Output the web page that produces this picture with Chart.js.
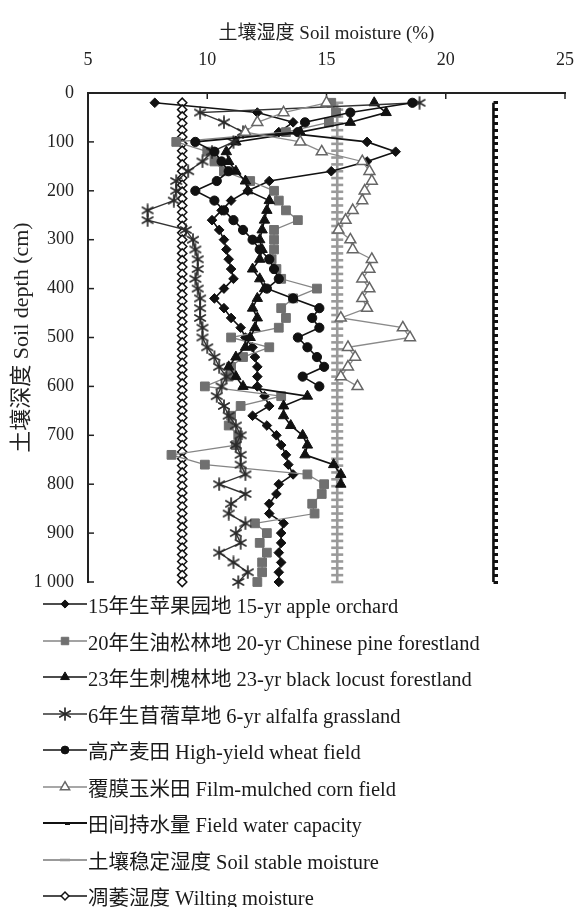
<!DOCTYPE html>
<html>
<head>
<meta charset="utf-8">
<script src="https://cdn.jsdelivr.net/npm/chart.js@4.4.1/dist/chart.umd.min.js"></script>
<style>
  html, body { margin: 0; padding: 0; background: #fff; }
  #wrap { position: relative; width: 585px; height: 907px; }
  #legend { position: absolute; left: 0; top: 0; width: 585px; height: 907px; pointer-events: none; }
  .row { position: absolute; left: 43px; height: 30px; display: flex; align-items: center;
         font: 20.5px "Liberation Serif", "Noto Sans CJK SC", serif; color: #1a1a1a; white-space: nowrap; }
  .row canvas { width: 44px; height: 16px; margin-right: 1px; }
</style>
</head>
<body>
<div id="wrap"><canvas id="c"></canvas><div id="legend"></div></div>
<script>
// Sampling depths (cm) of the measured soil-moisture profiles
const DEPTHS = [20, 40, 60, 80, 100, 120, 140, 160, 180, 200,
  220, 240, 260, 280, 300, 320, 340, 360, 380, 400,
  420, 440, 460, 480, 500, 520, 540, 560, 580, 600,
  620, 640, 660, 680, 700, 720, 740, 760, 780, 800,
  820, 840, 860, 880, 900, 920, 940, 960, 980, 1000];

// Depths at which the reference moisture levels are marked
const REF_DEPTHS = [20, 34, 48, 62, 76, 90, 104, 118, 132, 146, 160, 174, 188, 202, 216,
  230, 244, 258, 272, 286, 300, 314, 328, 342, 356, 370, 384, 398, 412, 426, 440, 454,
  468, 482, 496, 510, 524, 538, 552, 566, 580, 594, 608, 622, 636, 650, 664, 678, 692,
  706, 720, 734, 748, 762, 776, 790, 804, 818, 832, 846, 860, 874, 888, 902, 916, 930,
  944, 958, 972, 986, 1000];

// Soil moisture (%) per land use, one value per depth in DEPTHS
const APPLE = [7.8, 12.1, 13.6, 13.0, 16.7, 17.9, 16.7, 15.2, 12.6, 11.7,
  11.0, 10.6, 10.2, 10.5, 10.7, 10.8, 10.9, 11.0, 11.1, 10.7,
  10.3, 10.7, 11.0, 11.4, 11.6, 11.9, 12.0, 12.1, 12.1, 12.1,
  12.4, 12.6, 11.9, 12.5, 12.9, 13.1, 13.3, 13.4, 13.6, 13.0,
  12.9, 12.6, 12.6, 13.2, 13.1, 13.1, 13.0, 13.1, 13.0, 13.0];
const PINE = [15.2, 15.4, 15.1, 13.3, 8.7, 10.0, 10.3, 10.7, 11.8, 12.8,
  13.0, 13.3, 13.8, 12.8, 12.8, 12.8, 12.7, 12.9, 13.1, 14.6,
  13.6, 13.1, 13.3, 13.0, 11.0, 12.6, 11.5, 11.0, 10.9, 9.9,
  13.1, 11.4, 11.0, 10.9, 11.3, 11.2, 8.5, 9.9, 14.2, 14.9,
  14.8, 14.4, 14.5, 12.0, 12.5, 12.2, 12.5, 12.3, 12.3, 12.1];
const LOCUST = [17.0, 17.5, 16.0, 13.9, 11.2, 10.8, 10.9, 11.2, 11.6, 11.7,
  12.6, 12.5, 12.4, 12.3, 12.2, 12.3, 12.2, 11.9, 12.2, 12.4,
  12.1, 11.9, 12.1, 12.0, 11.8, 11.6, 11.2, 10.9, 11.2, 11.5,
  14.2, 13.2, 13.2, 13.5, 14.0, 14.2, 14.1, 15.3, 15.6, 15.6];
const ALFALFA = [18.9, 9.7, 10.7, 11.5, 11.1, 10.2, 9.8, 9.2, 8.7, 8.7,
  8.6, 7.5, 7.5, 9.1, 9.4, 9.5, 9.6, 9.6, 9.5, 9.6,
  9.7, 9.7, 9.7, 9.8, 9.8, 10.0, 10.3, 10.5, 10.8, 10.6,
  10.4, 10.7, 10.9, 11.2, 11.4, 11.2, 11.4, 11.4, 11.6, 10.5,
  11.6, 11.0, 10.9, 11.6, 11.2, 11.4, 10.5, 11.1, 11.7, 11.3];
const WHEAT = [18.6, 16.0, 14.1, 13.8, 9.5, 10.3, 10.6, 10.9, 10.4, 9.5,
  10.3, 10.7, 11.1, 11.5, 11.9, 12.2, 12.6, 12.8, 13.0, 12.5,
  13.6, 14.7, 14.4, 14.7, 13.8, 14.2, 14.6, 14.9, 14.0, 14.7];
const CORN = [15.0, 13.2, 12.1, 11.6, 13.9, 14.8, 16.5, 16.8, 16.9, 16.6,
  16.5, 16.1, 15.8, 15.5, 16.0, 16.1, 16.9, 16.8, 16.5, 16.8,
  16.5, 16.7, 15.6, 18.2, 18.5, 15.9, 16.2, 15.9, 15.6, 16.3];

// Reference moisture levels (%)
const FIELD_CAPACITY = 22.0;
const STABLE_MOISTURE = 15.45;
const WILTING_MOISTURE = 8.95;

const SERIES_NAMES = [
  '15年生苹果园地 15-yr apple orchard',
  '20年生油松林地 20-yr Chinese pine forestland',
  '23年生刺槐林地 23-yr black locust forestland',
  '6年生苜蓿草地 6-yr alfalfa grassland',
  '高产麦田 High-yield wheat field',
  '覆膜玉米田 Film-mulched corn field',
  '田间持水量 Field water capacity',
  '土壤稳定湿度 Soil stable moisture',
  '凋萎湿度 Wilting moisture'
];

const X_TITLE = '土壤湿度 Soil moisture (%)';
const Y_TITLE = '土壤深度 Soil depth (cm)';
const X_TICK_VALUES = [5, 10, 15, 20, 25];
const X_TICK_LABELS = ['5', '10', '15', '20', '25'];
const Y_TICK_VALUES = [0, 100, 200, 300, 400, 500, 600, 700, 800, 900, 1000];
const Y_TICK_LABELS = ['0', '100', '200', '300', '400', '500', '600', '700', '800', '900', '1 000'];

const FONT = '"Liberation Serif", "Noto Sans CJK SC", serif';

function profile(values, depths) {
  return values.map((v, i) => ({ x: v, y: depths[i] }));
}
function level(value) {
  return REF_DEPTHS.map(d => ({ x: value, y: d }));
}
function tickLabel(values, labels, v) {
  const i = values.indexOf(v);
  return i < 0 ? '' : labels[i];
}

// short bar marker that sits on the right side of its line
function sideDash(color) {
  const c = document.createElement('canvas');
  c.width = 10; c.height = 3;
  const g = c.getContext('2d');
  g.fillStyle = color;
  g.fillRect(5, 0, 5, 3);
  return c;
}

// six-spoked asterisk marker
function asterisk(color, r, w) {
  const size = Math.ceil(2 * r + 2);
  const c = document.createElement('canvas');
  c.width = size; c.height = size;
  const g = c.getContext('2d');
  g.strokeStyle = color;
  g.lineWidth = w;
  g.lineCap = 'round';
  const m = size / 2;
  [90, 30, 150].forEach(deg => {
    const a = deg * Math.PI / 180;
    g.beginPath();
    g.moveTo(m - Math.cos(a) * r, m - Math.sin(a) * r);
    g.lineTo(m + Math.cos(a) * r, m + Math.sin(a) * r);
    g.stroke();
  });
  return c;
}

const base = { showLine: true, clip: false, pointHoverRadius: 0, tension: 0 };

const datasets = [
  { ...base, label: SERIES_NAMES[0], data: profile(APPLE, DEPTHS), order: 5,
    borderColor: '#111', borderWidth: 1.6, pointStyle: 'rectRot', pointRadius: 4.8,
    pointBackgroundColor: '#111', pointBorderColor: '#111', pointBorderWidth: 1 },
  { ...base, label: SERIES_NAMES[1], data: profile(PINE, DEPTHS), order: 4,
    borderColor: '#858585', borderWidth: 1.3, pointStyle: 'rect', pointRadius: 6.2,
    pointBackgroundColor: '#707070', pointBorderColor: '#707070', pointBorderWidth: 1 },
  { ...base, label: SERIES_NAMES[2], data: profile(LOCUST, DEPTHS), order: 3,
    borderColor: '#111', borderWidth: 1.6, pointStyle: 'triangle', pointRadius: 6,
    pointBackgroundColor: '#111', pointBorderColor: '#111', pointBorderWidth: 1 },
  { ...base, label: SERIES_NAMES[3], data: profile(ALFALFA, DEPTHS), order: 2,
    borderColor: '#333', borderWidth: 1.4, pointStyle: asterisk('#2a2a2a', 6, 1.7), pointRadius: 6,
    pointBackgroundColor: '#333', pointBorderColor: '#333', pointBorderWidth: 1.6 },
  { ...base, label: SERIES_NAMES[4], data: profile(WHEAT, DEPTHS), order: 1,
    borderColor: '#111', borderWidth: 1.6, pointStyle: 'circle', pointRadius: 4.6,
    pointBackgroundColor: '#111', pointBorderColor: '#111', pointBorderWidth: 1 },
  { ...base, label: SERIES_NAMES[5], data: profile(CORN, DEPTHS), order: 0,
    borderColor: '#8a8a8a', borderWidth: 1.3, pointStyle: 'triangle', pointRadius: 6.3,
    pointBackgroundColor: '#fff', pointBorderColor: '#666', pointBorderWidth: 1.5 },
  { ...base, label: SERIES_NAMES[6], data: level(FIELD_CAPACITY), order: 8,
    borderColor: '#111', borderWidth: 2.6, pointStyle: sideDash('#111'), pointRadius: 5,
    pointBackgroundColor: '#111', pointBorderColor: '#111', pointBorderWidth: 0 },
  { ...base, label: SERIES_NAMES[7], data: level(STABLE_MOISTURE), order: 7,
    borderColor: '#9a9a9a', borderWidth: 2.6, pointStyle: 'line', pointRadius: 6,
    pointBackgroundColor: '#9a9a9a', pointBorderColor: '#9a9a9a', pointBorderWidth: 2.6 },
  { ...base, label: SERIES_NAMES[8], data: level(WILTING_MOISTURE), order: 6,
    borderColor: '#111', borderWidth: 1.4, pointStyle: 'rectRot', pointRadius: 4.6,
    pointBackgroundColor: '#fff', pointBorderColor: '#111', pointBorderWidth: 1.5 }
];

// inward tick marks on the top and left axes
const innerTicks = {
  id: 'innerTicks',
  beforeDatasetsDraw(chart) {
    const { ctx, chartArea, scales: { x, y } } = chart;
    ctx.save();
    ctx.strokeStyle = '#222';
    ctx.lineWidth = 1.5;
    x.ticks.forEach(t => {
      const px = x.getPixelForValue(t.value);
      ctx.beginPath(); ctx.moveTo(px, chartArea.top); ctx.lineTo(px, chartArea.top + 6); ctx.stroke();
    });
    y.ticks.forEach(t => {
      const py = y.getPixelForValue(t.value);
      ctx.beginPath(); ctx.moveTo(chartArea.left, py); ctx.lineTo(chartArea.left + 6, py); ctx.stroke();
    });
    ctx.restore();
  }
};

const chart = new Chart(document.getElementById('c'), {
  type: 'scatter',
  data: { datasets },
  options: {
    responsive: true,
    maintainAspectRatio: false,
    animation: false,
    events: [],
    layout: { padding: { left: 0, top: 0, right: 20, bottom: 325 } },
    plugins: { legend: { display: false }, tooltip: { enabled: false } },
    scales: {
      x: {
        type: 'linear', position: 'top', min: 5, max: 25,
        ticks: { stepSize: 5, padding: 22, color: '#222', font: { family: FONT, size: 18 },
                 callback: v => tickLabel(X_TICK_VALUES, X_TICK_LABELS, v) },
        grid: { display: false, drawTicks: false },
        border: { display: true, color: '#222', width: 2 },
        title: { display: true, text: X_TITLE, color: '#222', font: { family: FONT, size: 19 },
                 padding: { top: 23, bottom: 0 } },
        afterFit: s => { s.height = 93; s.paddingLeft = 0; s.paddingRight = 0; }
      },
      y: {
        type: 'linear', position: 'left', reverse: true, min: 0, max: 1000,
        ticks: { stepSize: 100, padding: 14, color: '#222', font: { family: FONT, size: 18 },
                 callback: v => tickLabel(Y_TICK_VALUES, Y_TICK_LABELS, v) },
        grid: { display: false, drawTicks: false },
        border: { display: true, color: '#222', width: 2 },
        title: { display: true, text: Y_TITLE, color: '#222', font: { family: FONT, size: 22 },
                 padding: { top: 9, bottom: 0 } },
        afterFit: s => { s.width = 88; }
      }
    }
  },
  plugins: [innerTicks]
});

// legend: one row per dataset, line with its marker followed by the label
(function buildLegend() {
  const box = document.getElementById('legend');
  const rowTop = 589, rowStep = 36.5;
  chart.data.datasets.forEach((ds, i) => {
    const row = document.createElement('div');
    row.className = 'row';
    row.style.top = (rowTop + i * rowStep) + 'px';
    const icon = document.createElement('canvas');
    icon.width = 44; icon.height = 16;
    const g = icon.getContext('2d');
    g.strokeStyle = ds.borderColor;
    g.lineWidth = Math.min(ds.borderWidth, 2);
    g.beginPath(); g.moveTo(0, 8); g.lineTo(44, 8); g.stroke();
    g.fillStyle = ds.pointBackgroundColor;
    g.strokeStyle = ds.pointBorderColor;
    g.lineWidth = ds.pointBorderWidth;
    const r = typeof ds.pointStyle === 'string' ? ds.pointRadius * 0.85 : ds.pointRadius;
    if (Chart.helpers && Chart.helpers.drawPoint) {
      Chart.helpers.drawPoint(g, { pointStyle: ds.pointStyle, radius: r, rotation: 0,
                                   borderWidth: ds.pointBorderWidth }, 22, 8);
    }
    const label = document.createElement('span');
    label.textContent = ds.label;
    row.appendChild(icon);
    row.appendChild(label);
    box.appendChild(row);
  });
})();
</script>
</body>
</html>
